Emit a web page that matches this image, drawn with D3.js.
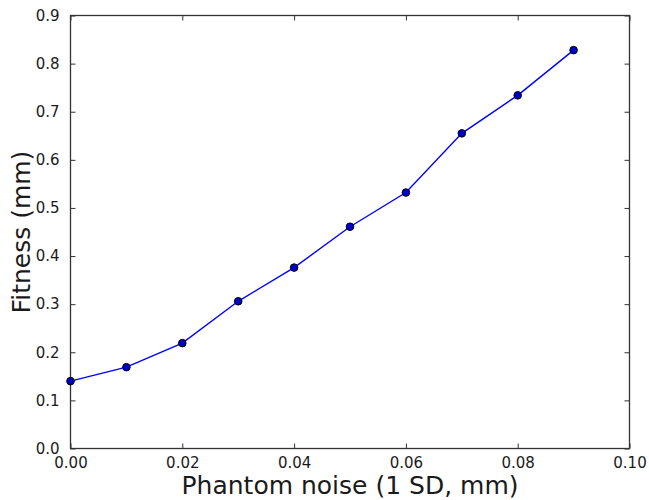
<!DOCTYPE html>
<html>
<head>
<meta charset="utf-8">
<script src="https://cdn.jsdelivr.net/npm/d3@7"></script>
<style>
  html, body { margin: 0; padding: 0; background: #fff; }
  svg { display: block; }
  text { font-family: "DejaVu Sans", sans-serif; fill: #1a1a1a; }
</style>
</head>
<body>
<svg id="chart" width="649" height="500"></svg>
<script>
const noise = [0.00, 0.01, 0.02, 0.03, 0.04, 0.05, 0.06, 0.07, 0.08, 0.09];
const fitness = [0.140, 0.169, 0.219, 0.306, 0.376, 0.461, 0.532, 0.655, 0.734, 0.828];
const xTicks = [0.00, 0.02, 0.04, 0.06, 0.08, 0.10];
const yTicks = [0.0, 0.1, 0.2, 0.3, 0.4, 0.5, 0.6, 0.7, 0.8, 0.9];
const xLabel = "Phantom noise (1 SD, mm)";
const yLabel = "Fitness (mm)";

const W = 649, H = 500;
const m = {left: 70.5, right: 19.5, top: 15.5, bottom: 51.5};
const svg = d3.select("#chart");
const x = d3.scaleLinear().domain([0, 0.10]).range([m.left, W - m.right]);
const y = d3.scaleLinear().domain([0, 0.9]).range([H - m.bottom, m.top]);

const tickLen = 5;
const axisColor = "#333";

const bottomAxis = d3.axisBottom(x).tickValues(xTicks).tickFormat(d3.format(".2f")).tickSize(-tickLen).tickPadding(9);
const topAxis = d3.axisTop(x).tickValues(xTicks).tickFormat("").tickSize(-tickLen);
const leftAxis = d3.axisLeft(y).tickValues(yTicks).tickFormat(d3.format(".1f")).tickSize(-tickLen).tickPadding(11);
const rightAxis = d3.axisRight(y).tickValues(yTicks).tickFormat("").tickSize(-tickLen);

function style(g) {
  g.select(".domain").remove();
  g.selectAll(".tick line").attr("stroke", axisColor).attr("stroke-width", 1);
  g.selectAll(".tick text").attr("font-size", "15px").attr("font-family", "DejaVu Sans, sans-serif").attr("fill", "#1a1a1a");
}

svg.append("g").attr("transform", `translate(0,${H - m.bottom})`).call(bottomAxis).call(style);
svg.append("g").attr("transform", `translate(0,${m.top})`).call(topAxis).call(style);
svg.append("g").attr("transform", `translate(${m.left},0)`).call(leftAxis).call(style);
svg.append("g").attr("transform", `translate(${W - m.right},0)`).call(rightAxis).call(style);

svg.append("rect")
  .attr("x", m.left).attr("y", m.top)
  .attr("width", W - m.left - m.right).attr("height", H - m.top - m.bottom)
  .attr("fill", "none").attr("stroke", axisColor).attr("stroke-width", 1.3);

const pts = noise.map((d, i) => [d, fitness[i]]);
svg.append("path")
  .datum(pts)
  .attr("fill", "none").attr("stroke", "#0000ff").attr("stroke-width", 1.4)
  .attr("d", d3.line().x(d => x(d[0])).y(d => y(d[1])));

svg.selectAll("circle.pt").data(pts).enter().append("circle")
  .attr("class", "pt")
  .attr("cx", d => x(d[0])).attr("cy", d => y(d[1]))
  .attr("r", 3.8)
  .attr("fill", "#0000cc").attr("stroke", "#000").attr("stroke-width", 1);

svg.append("text")
  .attr("x", (m.left + W - m.right) / 2).attr("y", 494)
  .attr("text-anchor", "middle").attr("font-size", "25px")
  .text(xLabel);

svg.append("text")
  .attr("transform", `translate(30,${(m.top + H - m.bottom) / 2}) rotate(-90)`)
  .attr("text-anchor", "middle").attr("font-size", "25px")
  .text(yLabel);
</script>
</body>
</html>
